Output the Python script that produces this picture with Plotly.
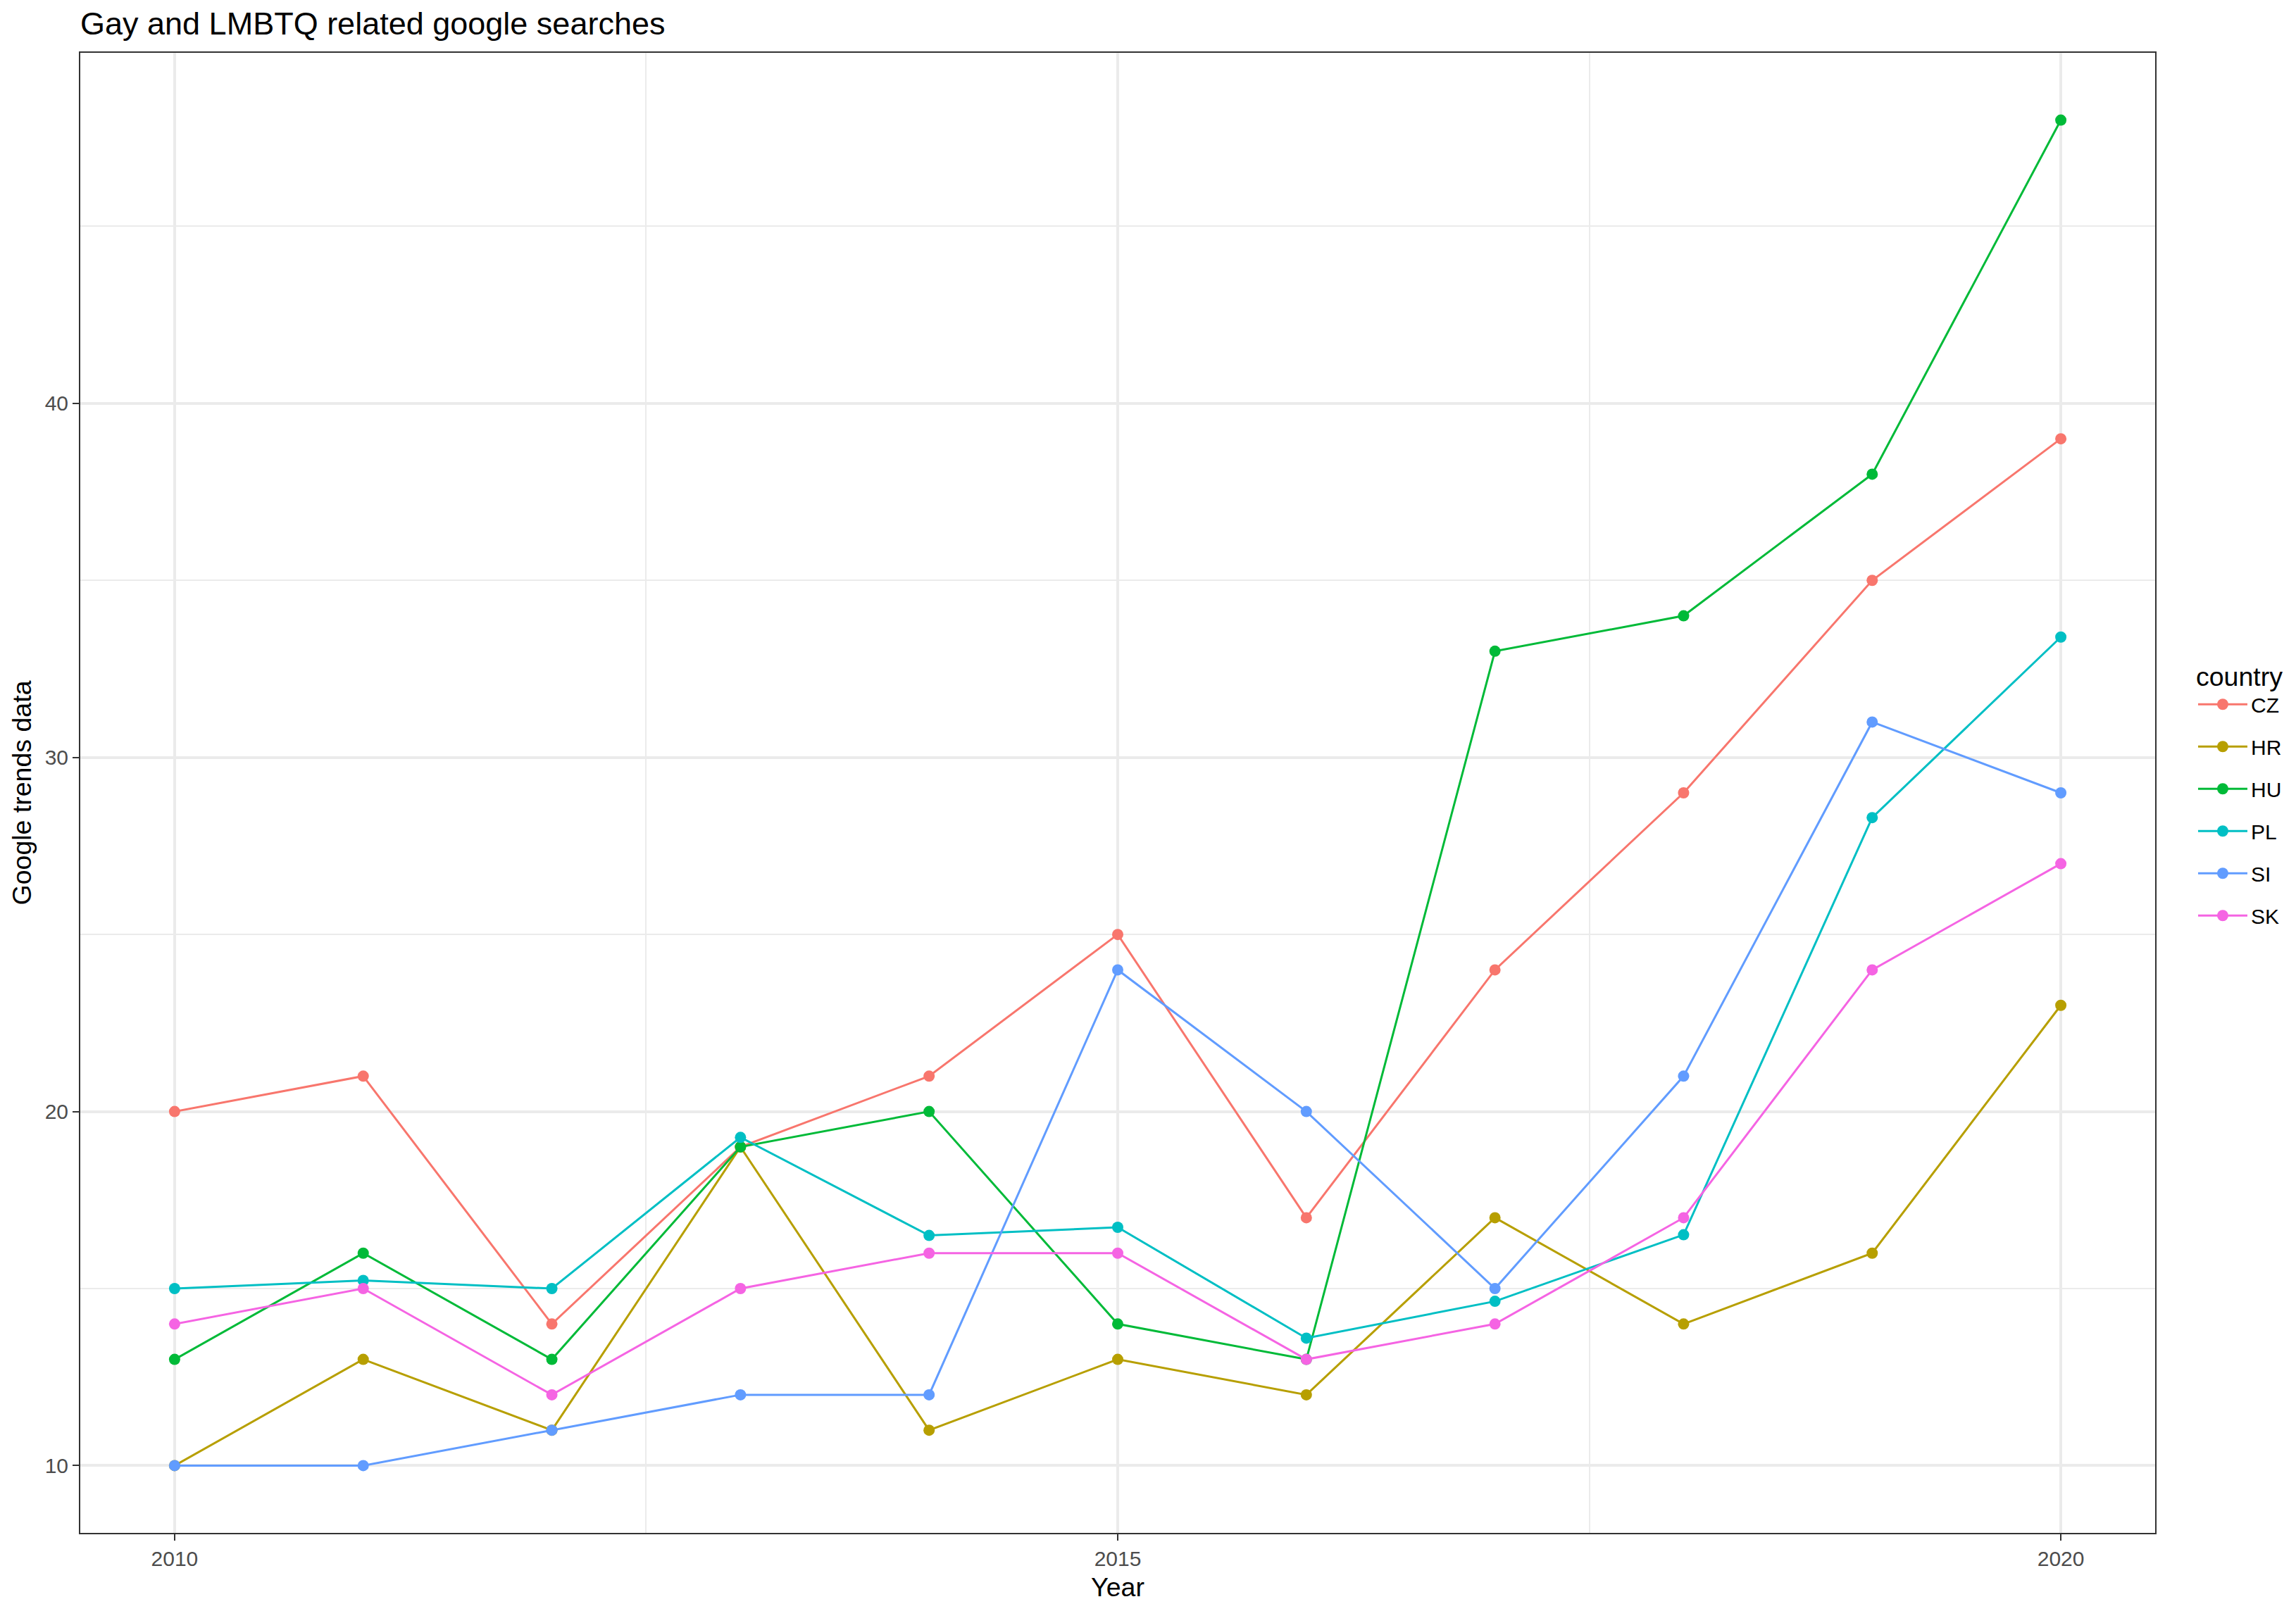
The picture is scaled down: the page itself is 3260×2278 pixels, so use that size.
import plotly.graph_objects as go

# Google trends values per country
years = [2010, 2011, 2012, 2013, 2014, 2015, 2016, 2017, 2018, 2019, 2020]
countries = ["CZ", "HR", "HU", "PL", "SI", "SK"]
cz = [20, 21, 14, 19, 21, 25, 17, 24, 29, 35, 39]
hr = [10, 13, 11, 19, 11, 13, 12, 17, 14, 16, 23]
hu = [13, 16, 13, 19, 20, 14, 13, 33, 34, 38, 48]
pl = [15, 15.23, 15, 19.27, 16.5, 16.73, 13.6, 14.64, 16.52, 28.3, 33.4]
si = [10, 10, 11, 12, 12, 24, 20, 15, 21, 31, 29]
sk = [14, 15, 12, 15, 16, 16, 13, 14, 17, 24, 27]
values = [cz, hr, hu, pl, si, sk]

# ggplot default hue palette
colors = ["#F8766D", "#B79F00", "#00BA38", "#00BFC4", "#619CFF", "#F564E3"]

FONT = "Liberation Sans, Arial, Helvetica, sans-serif"

fig = go.Figure()
for name, vals, col in zip(countries, values, colors):
    fig.add_trace(
        go.Scatter(
            x=years,
            y=vals,
            name=name,
            legendgroup=name,
            mode="lines+markers",
            line=dict(color=col, width=3),
            marker=dict(color=col, size=16, line=dict(width=0)),
        )
    )

axis_common = dict(
    showgrid=True,
    gridcolor="#EBEBEB",
    gridwidth=3.5,
    zeroline=False,
    showline=True,
    mirror=True,
    linecolor="#333333",
    linewidth=2,
    ticks="outside",
    ticklen=9,
    tickwidth=2,
    tickcolor="#333333",
    tickfont=dict(family=FONT, size=30, color="#4D4D4D"),
    automargin=False,
)

fig.update_xaxes(
    range=[2009.5, 2020.5],
    tickvals=[2010, 2015, 2020],
    minor=dict(tickvals=[2012.5, 2017.5], showgrid=True, gridcolor="#EBEBEB", gridwidth=1.8, ticks=""),
    title=dict(text="Year", font=dict(family=FONT, size=37.5, color="black"), standoff=12),
    **axis_common,
)
fig.update_yaxes(
    range=[8.1, 49.9],
    tickvals=[10, 20, 30, 40],
    minor=dict(tickvals=[15, 25, 35, 45], showgrid=True, gridcolor="#EBEBEB", gridwidth=1.8, ticks=""),
    title=dict(text="Google trends data", font=dict(family=FONT, size=37.5, color="black"), standoff=8),
    **axis_common,
)

# page body has an 8px margin, so the figure is a bit smaller and shifted
fig.update_layout(
    width=3252,
    height=2270,
    margin=dict(l=106, r=200, t=67, b=101),
    paper_bgcolor="white",
    plot_bgcolor="white",
    font=dict(family=FONT, color="black"),
    title=dict(
        text="Gay and LMBTQ related google searches",
        font=dict(family=FONT, size=45, color="black"),
        xref="paper",
        x=0,
        xanchor="left",
        yref="container",
        y=1 - 25 / 2270,
        yanchor="middle",
    ),
    legend=dict(
        title=dict(text="country", font=dict(family=FONT, size=37.5, color="black")),
        font=dict(family=FONT, size=30, color="black"),
        x=1.019,
        xanchor="left",
        y=0.5,
        yanchor="middle",
        tracegroupgap=18,
        itemwidth=70,
        bgcolor="rgba(0,0,0,0)",
    ),
)

fig.write_html("out.html")
